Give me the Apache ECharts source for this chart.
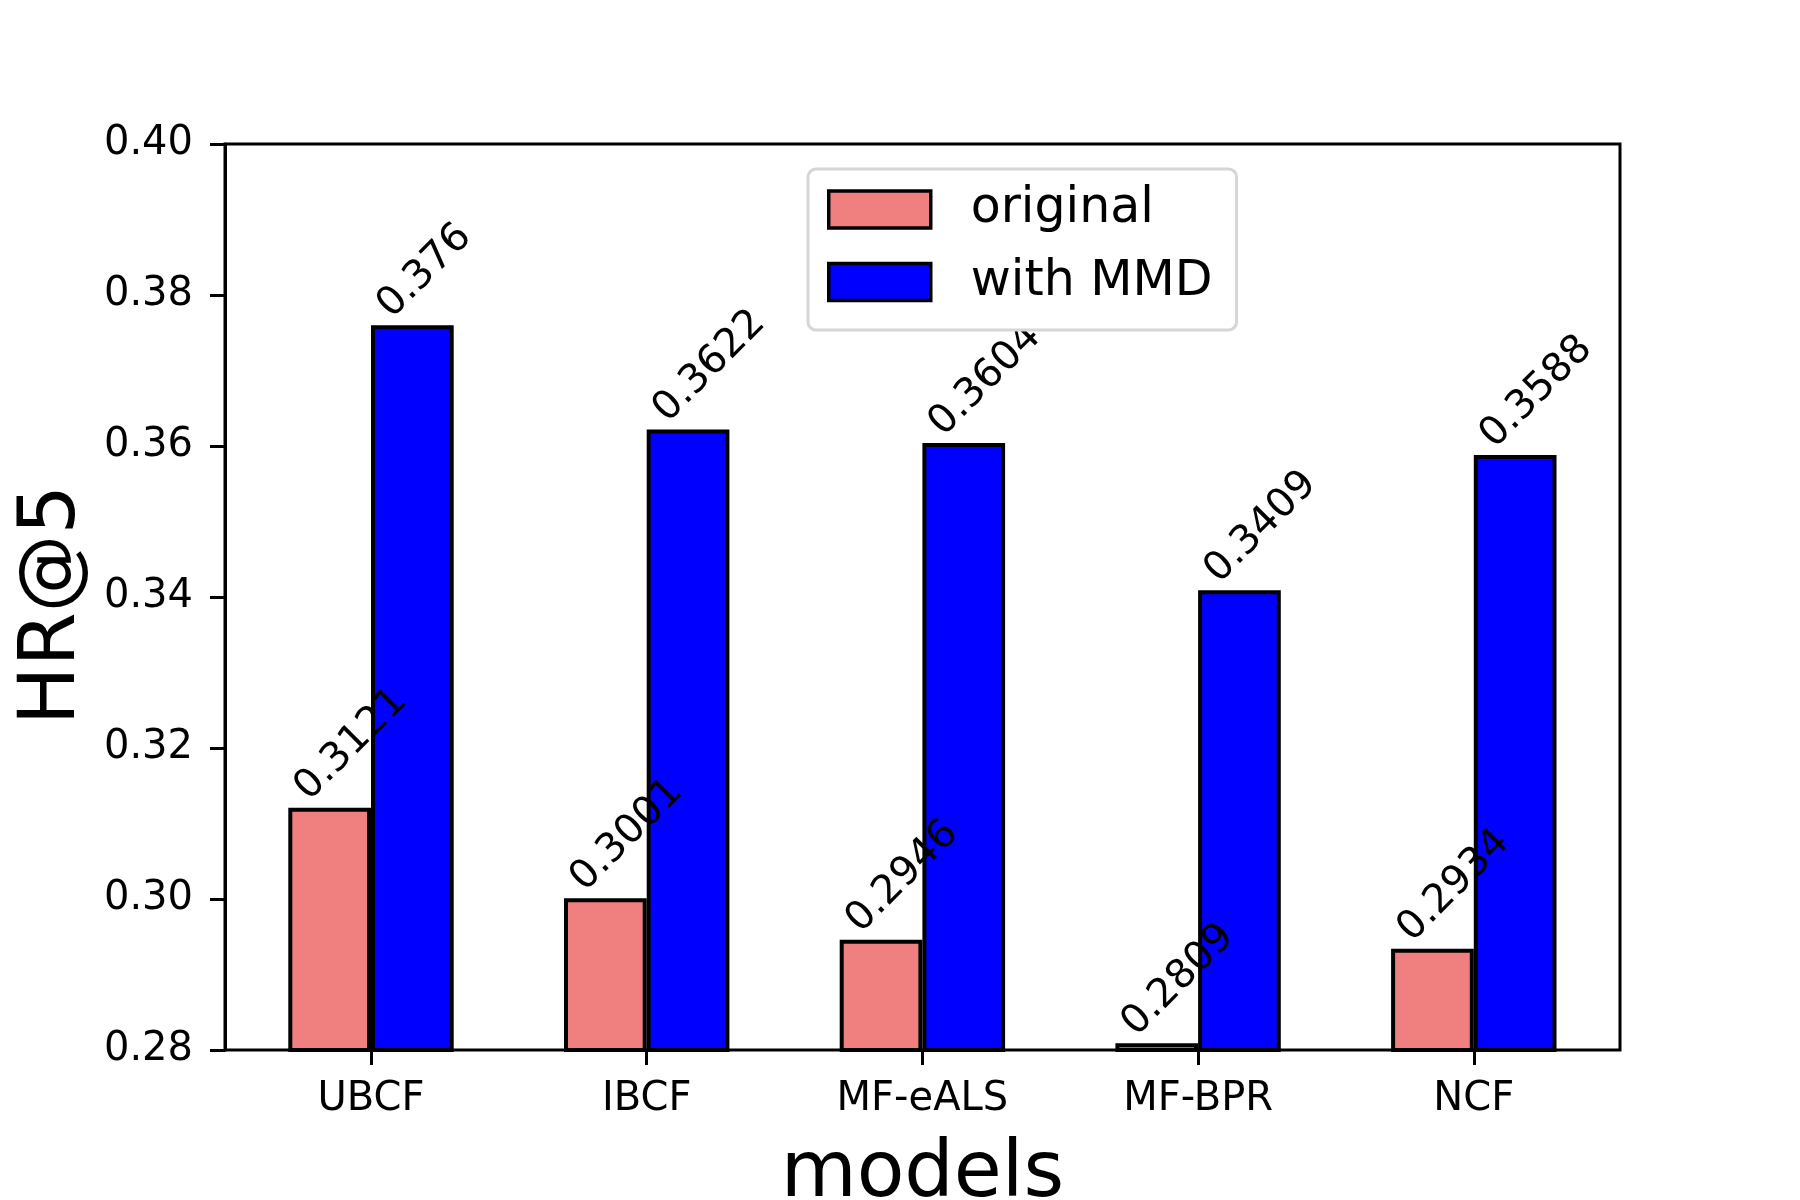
<!DOCTYPE html>
<html>
<head>
<meta charset="utf-8">
<script src="https://cdn.jsdelivr.net/npm/echarts@6/dist/echarts.min.js"></script>
<style>
html,body{margin:0;padding:0;background:#fff;}
#chart{width:1800px;height:1200px;}
</style>
</head>
<body>
<div id="chart"></div>
<script>
const categories = ['UBCF', 'IBCF', 'MF-eALS', 'MF-BPR', 'NCF'];
const originalValues = [0.3121, 0.3001, 0.2946, 0.2809, 0.2934];
const mmdValues = [0.376, 0.3622, 0.3604, 0.3409, 0.3588];
const seriesNames = ['original', 'with MMD'];
const yMin = 0.28, yMax = 0.40, yStep = 0.02;

const FONT = 'DejaVu Sans';
const chart = echarts.init(document.getElementById('chart'), null, {renderer: 'canvas'});

const barLabel = {
  show: true,
  position: [0, 0],
  align: 'left',
  verticalAlign: 'bottom',
  rotate: 45,
  offset: [19, 20],
  color: '#000',
  fontFamily: FONT,
  fontSize: 40,
  formatter: p => String(p.value)
};

const option = {
  backgroundColor: '#fff',
  animation: false,
  textStyle: {fontFamily: FONT},
  legend: {
    orient: 'vertical',
    left: 808,
    top: 169,
    padding: [14.5, 24, 22, 19],
    icon: 'rect',
    itemWidth: 102,
    itemHeight: 37,
    itemGap: 20.5,
    backgroundColor: '#fff',
    borderColor: '#d6d6d6',
    borderWidth: 3,
    borderRadius: 8,
    itemStyle: {borderColor: '#000', borderWidth: 3.5},
    textStyle: {fontFamily: FONT, fontSize: 49, color: '#000', lineHeight: 48, padding: [4, 0, 0, 35]},
    data: seriesNames
  },
  grid: [
    {left: 225, top: 144, width: 1395, height: 906, show: true, borderColor: '#000', borderWidth: 3, backgroundColor: 'transparent', outerBoundsMode: 'none', containLabel: false},
    {left: 233.15, top: 144, width: 1378.5, height: 906, outerBoundsMode: 'none', containLabel: false}
  ],
  xAxis: [
    {type: 'category', gridIndex: 0, data: categories, show: false},
    {
      type: 'category', gridIndex: 1, data: categories,
      name: 'models', nameLocation: 'middle', nameGap: 87,
      nameTextStyle: {fontFamily: FONT, fontSize: 78, color: '#000'},
      axisLine: {show: false},
      axisTick: {show: true, alignWithLabel: true, length: 15, lineStyle: {color: '#000', width: 3}},
      axisLabel: {margin: 30, fontFamily: FONT, fontSize: 40, color: '#000'},
      splitLine: {show: false}
    }
  ],
  yAxis: [
    {
      type: 'value', gridIndex: 0, min: yMin, max: yMax, interval: yStep,
      name: 'HR@5', nameLocation: 'middle', nameGap: 128, nameRotate: 90,
      nameTextStyle: {fontFamily: FONT, fontSize: 78, color: '#000', padding: [0, 16, 0, 0]},
      axisLine: {show: true, lineStyle: {color: '#000', width: 3}},
      axisTick: {show: true, length: 15, lineStyle: {color: '#000', width: 3}},
      axisLabel: {margin: 32, fontFamily: FONT, fontSize: 40, color: '#000', formatter: v => v.toFixed(2)},
      splitLine: {show: false}
    },
    {type: 'value', gridIndex: 1, min: yMin, max: yMax, interval: yStep, show: false, splitLine: {show: false}}
  ],
  series: [
    {
      name: seriesNames[0], type: 'bar', xAxisIndex: 1, yAxisIndex: 1,
      data: originalValues, barWidth: 82.7, barGap: '0%',
      itemStyle: {color: '#F08080', borderColor: '#000', borderWidth: 4},
      label: barLabel
    },
    {
      name: seriesNames[1], type: 'bar', xAxisIndex: 1, yAxisIndex: 1,
      data: mmdValues, barWidth: 82.7, barGap: '0%',
      itemStyle: {color: '#0000FF', borderColor: '#000', borderWidth: 4},
      label: barLabel
    }
  ]
};
chart.setOption(option);
</script>
</body>
</html>
